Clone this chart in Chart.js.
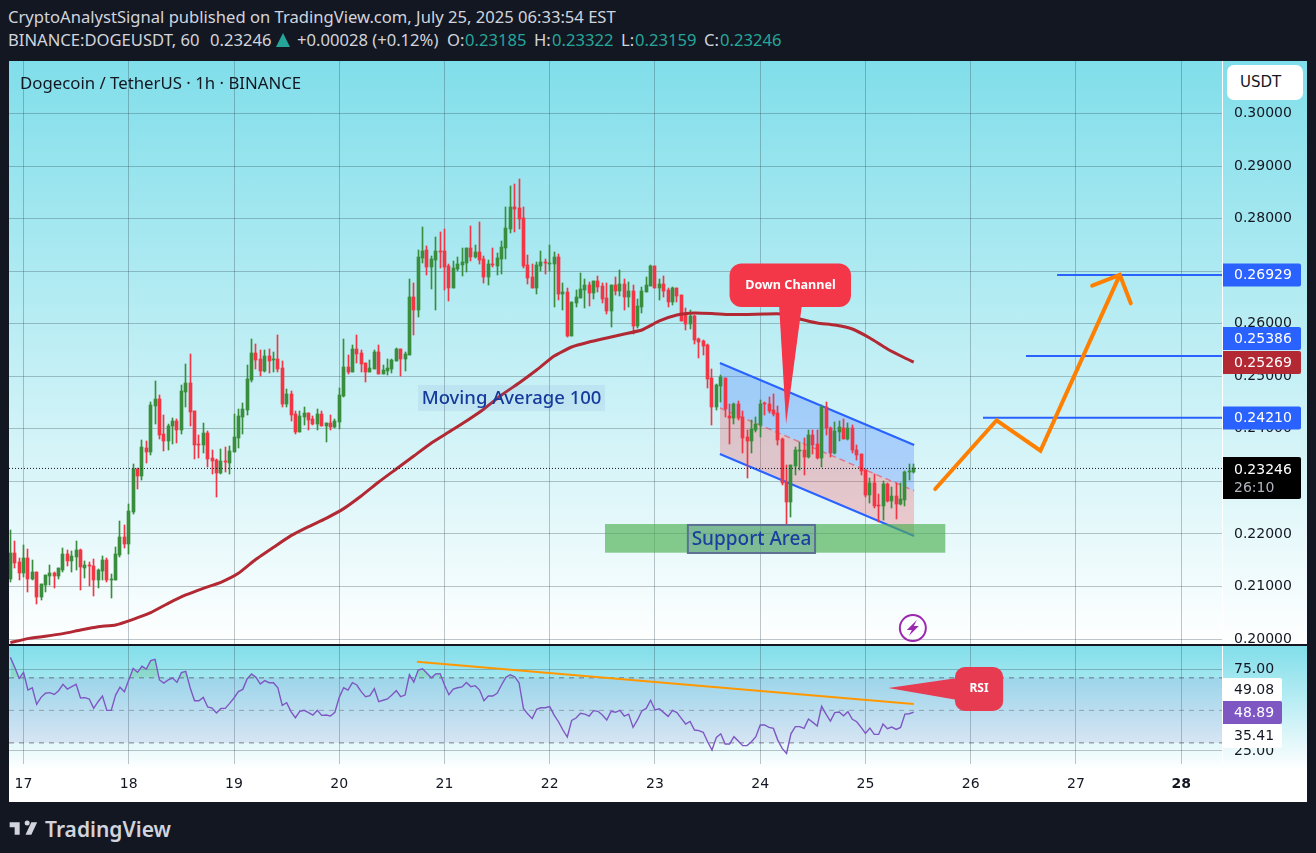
<!DOCTYPE html>
<html><head><meta charset="utf-8">
<style>
html,body{margin:0;padding:0;width:1316px;height:853px;background:#131722;overflow:hidden;font-family:"Noto Sans",sans-serif}
.t{position:absolute;white-space:nowrap;font-size:16.6px;line-height:20px;color:#d1d4dc}
.g{color:#26a69a}
canvas{position:absolute;display:block}
#c1{left:9px;top:61px;background:linear-gradient(to bottom,#80deea 0,#ffffff 584px)}
#c2{left:9px;top:645px;background:linear-gradient(to bottom,#80deea 0,#ffffff 125px,#ffffff 100%)}
#sep{position:absolute;left:9px;top:644px;width:1298px;height:2px;background:#131722}
#title{position:absolute;left:20px;top:72px;font-size:16.8px;line-height:22px;color:#131722;white-space:nowrap}
#usdt{position:absolute;left:1227px;top:65px;width:76px;height:35px;box-sizing:border-box;background:#fff;border-radius:7px;padding-left:13px;font:15px/35px "DejaVu Sans",sans-serif;color:#131722}
#logo{position:absolute;left:8px;top:819px}
#brand{position:absolute;left:45px;top:814px;font-size:21px;line-height:30px;font-weight:600;color:#d1d4dc;white-space:nowrap}
</style></head><body>
<div class="t" style="left:8px;top:7px">CryptoAnalystSignal published on TradingView.com, July 25, 2025 06:33:54 EST</div>
<div class="t" style="left:8px;top:30px">BINANCE:DOGEUSDT, 60</div>
<div class="t" style="left:210px;top:30px">0.23246</div>
<svg style="position:absolute;left:276px;top:33px" width="14" height="14"><polygon points="7,0 14,14 0,14" fill="#26a69a"/></svg>
<div class="t" style="left:297px;top:30px">+0.00028 (+0.12%)</div>
<div class="t" style="left:447px;top:30px">O:<span class="g" style="position:absolute;left:18px">0.23185</span></div>
<div class="t" style="left:534px;top:30px">H:<span class="g" style="position:absolute;left:18px">0.23322</span></div>
<div class="t" style="left:621px;top:30px">L:<span class="g" style="position:absolute;left:14px">0.23159</span></div>
<div class="t" style="left:704px;top:30px">C:<span class="g" style="position:absolute;left:16px">0.23246</span></div>
<canvas id="c1" width="1298" height="584"></canvas>
<canvas id="c2" width="1298" height="157"></canvas>
<div id="sep"></div>
<div id="title">Dogecoin / TetherUS · 1h · BINANCE</div>
<div id="usdt">USDT</div>
<svg id="logo" width="30" height="19" viewBox="0 4 36 19"><path fill="#d1d4dc" d="M14 6H2v6h6v9h6V6zm14 15h-7l7-15h7l-7 15zm-5-11a3 3 0 1 0 0-6 3 3 0 0 0 0 6z"/></svg>
<div id="brand">TradingView</div>
<script src="https://cdn.jsdelivr.net/npm/chart.js@4/dist/chart.umd.js"></script>
<script>
// ---------- data ----------
const opens=[.21142,.21637,.21466,.21257,.21542,.21142,.21276,.208,.21028,.21199,
.21257,.21199,.21314,.21618,.21485,.21561,.21694,.21352,.21409,.2139,
.21123,.21295,.21504,.2113,.21123,.21599,.21942,.21808,.22417,.23236,
.23102,.23635,.23559,.24434,.24568,.23902,.23768,.24054,.24149,.23978,
.24701,.24872,.24339,.23711,.23692,.23921,.23445,.23407,.2316,.23388,
.2335,.23559,.23825,.24225,.24358,.24929,.25443,.25329,.251,.25386,
.2531,.25329,.25157,.24472,.24663,.24282,.2394,.24225,.24301,.24187,
.24092,.24282,.24054,.24111,.24035,.2413,.24625,.25177,.25081,.25519,
.25443,.25253,.25081,.25138,.25462,.25043,.251,.25138,.25291,.25519,
.25329,.25405,.26509,.26262,.27251,.27404,.2708,.27213,.27385,.27385,
.27099,.26681,.27042,.27118,.27156,.27442,.2727,.27366,.27232,.2689,
.27137,.27099,.27232,.27442,.27803,.28222,.28203,.28013,.27118,.2689,
.26681,.27099,.27175,.27137,.27137,.2727,.26566,.26604,.25767,.26395,
.2649,.26643,.26738,.26585,.26814,.26719,.2649,.26243,.26738,.26623,
.26757,.2651,.26623,.25958,.26319,.26604,.26719,.27099,.26681,.26757,
.26643,.26414,.26681,.26547,.26186,.2599,.26142,.25705,.25667,.25591,
.24963,.24411,.2481,.24963,.2424,.24201,.24468,.2422,.2384,.23764,
.23973,.24068,.24487,.24468,.24354,.24297,.23802,.22965,.22603,.23288,
.23573,.23592,.23459,.23878,.23707,.2344,.24411,.24011,.23535,.23935,
.24011,.23802,.24011,.23592,.23516,.23212,.22736,.22965,.22546,.22527,
.22945,.22622,.22717,.22565,.22641,.23174,.23185];
const closes=[.21637,.21447,.21257,.21542,.21142,.21276,.208,.21047,.21218,.21257,
.21199,.21352,.21618,.21485,.2158,.21694,.21371,.21409,.2139,.21123,
.21314,.21504,.21123,.21142,.21618,.21942,.21808,.22436,.23236,.23102,
.23654,.23559,.24453,.24568,.23883,.23768,.24054,.24149,.23978,.2472,
.24872,.2432,.23692,.23692,.23921,.23426,.23388,.2316,.23388,.23369,
.23578,.23844,.24244,.24377,.24948,.25443,.2531,.251,.25386,.25291,
.25329,.25138,.24472,.24663,.24263,.2394,.24244,.24301,.24168,.24092,
.24282,.24054,.24111,.24035,.24149,.24644,.25177,.25081,.25519,.25424,
.25234,.25081,.25157,.25462,.25043,.25119,.25157,.2531,.25519,.25329,
.25424,.26509,.26261,.2727,.27385,.2708,.27232,.27385,.27366,.2708,
.26681,.27061,.27137,.27175,.27442,.2727,.27366,.27213,.2689,.27137,
.27118,.27251,.27461,.27822,.28222,.28184,.27994,.27099,.2687,.26681,
.27118,.27175,.27156,.27156,.2727,.26566,.26604,.25767,.26414,.2651,
.26662,.26738,.26585,.26814,.267,.26471,.26243,.26738,.26623,.26757,
.2651,.26623,.25958,.26338,.26623,.26738,.27099,.26681,.26757,.26623,
.26414,.26681,.26528,.26053,.25996,.26142,.25686,.25648,.25572,.24944,
.24411,.24829,.24982,.24373,.24201,.24468,.24201,.23821,.23764,.23992,
.24087,.24468,.24468,.24335,.24278,.23783,.22965,.22603,.23307,.23592,
.23592,.23459,.23878,.23688,.2344,.24411,.24011,.23535,.23954,.2403,
.23802,.24011,.23592,.23497,.23193,.22736,.22965,.22527,.22527,.22945,
.22622,.22717,.22565,.2266,.23174,.23193,.23246];
const highs=[.22075,.21865,.21542,.21789,.21713,.21504,.21276,.21047,.21218,.21409,
.21276,.21352,.21732,.21694,.21675,.21865,.21713,.21485,.21466,.21523,
.21333,.2158,.21542,.21238,.21751,.22246,.2217,.2257,.23331,.23255,
.23787,.23768,.24511,.2491,.24644,.24263,.24092,.24206,.24187,.24834,
.25234,.25424,.24339,.23883,.24111,.23959,.23597,.23426,.23616,.23654,
.23673,.24282,.24377,.24491,.25215,.25709,.25614,.255,.255,.25519,
.25462,.25785,.25291,.24758,.2472,.24339,.24339,.24415,.24301,.24244,
.24377,.24339,.24111,.24263,.24187,.24777,.25709,.25405,.25595,.25785,
.255,.25253,.2531,.255,.25595,.25215,.25329,.25329,.25538,.25519,
.25462,.26851,.26775,.27404,.27841,.2748,.27289,.27651,.27746,.27803,
.27137,.27194,.2727,.27442,.27442,.2786,.27499,.27936,.27289,.27213,
.27442,.27347,.27575,.28222,.28622,.2866,.28755,.28222,.27309,.27137,
.27175,.27385,.27232,.27499,.27366,.27328,.26776,.26681,.26414,.26643,
.26966,.26852,.26795,.26814,.26909,.26776,.26776,.26738,.2689,.27023,
.26852,.26795,.26738,.26471,.267,.2689,.27118,.27099,.26852,.26909,
.26681,.267,.26681,.26547,.263,.26257,.26161,.25724,.25686,.2561,
.25134,.24848,.2502,.24963,.24468,.24487,.24525,.24335,.23973,.24163,
.2422,.24544,.24506,.24601,.24658,.2443,.23821,.23307,.23307,.2365,
.23745,.23821,.23973,.23973,.23973,.24449,.24506,.2403,.24125,.24144,
.24182,.24106,.24068,.23688,.23516,.23231,.2306,.23136,.22755,.23003,
.22965,.22888,.22965,.22965,.23193,.23326,.23322];
const lows=[.21085,.21352,.21123,.2118,.20895,.21123,.20667,.20743,.20895,.21028,
.20971,.21142,.21276,.2139,.21276,.21314,.20933,.21161,.21009,.20819,
.20971,.21123,.21085,.20781,.21123,.21561,.21732,.21618,.22379,.22855,
.23026,.2335,.23502,.24092,.23806,.23578,.23597,.23711,.2373,.23902,
.24415,.24054,.23426,.23445,.2354,.23274,.2314,.22703,.2314,.23178,
.2314,.23559,.23635,.23902,.24263,.24891,.25138,.25005,.25081,.25062,
.25081,.25081,.24415,.24415,.24149,.23902,.2394,.24073,.23978,.24073,
.23978,.24054,.2375,.23978,.24016,.23997,.24606,.25043,.25081,.25253,
.25081,.24891,.25081,.25138,.25043,.25043,.25024,.25062,.25291,.25005,
.251,.25405,.25785,.26129,.27156,.26928,.26662,.26262,.27061,.26643,
.26433,.26681,.27004,.26909,.26985,.27194,.27251,.27137,.26776,.26738,
.2708,.26928,.26947,.27232,.27727,.27746,.27803,.27061,.26757,.26681,
.26566,.27004,.26947,.27004,.26319,.26452,.26262,.25748,.25767,.26319,
.2649,.263,.26338,.26471,.26604,.26395,.26186,.25938,.26547,.26528,
.26262,.26319,.25805,.2592,.26205,.26604,.26719,.26681,.26452,.2651,
.26319,.26357,.26414,.26053,.25881,.25895,.2561,.25343,.254,.24772,
.24068,.24354,.24506,.24221,.23707,.24087,.24163,.23535,.2306,.23535,
.23935,.2384,.24259,.24297,.2424,.23688,.22927,.22184,.22318,.23117,
.23212,.23117,.2344,.23516,.23421,.23269,.23878,.2346,.23516,.23764,
.23802,.23783,.23535,.23402,.23117,.22698,.22584,.22489,.22222,.2226,
.22603,.22489,.22279,.22546,.22527,.23022,.23159];
const maHours=[-3,1,5,9,13,17,21,25,29,33,37,41,45,49,53,57,61,65,69,73,77,81,85,89,93,97,101,105,109,113,117,121,125,129,133,137,141,145,149,153,157,161,165,169,173,177,181,185,189,193,197,201,203];
const maValues=[.19931,.20007,.20051,.20102,.20172,.20235,.20267,.20375,.20502,.20679,.20838,.20965,.21079,.2125,.21517,.21745,.21967,.22138,.22297,.22481,.22721,.22988,.23235,.23482,.2373,.23939,.24149,.24377,.24643,.24872,.25119,.25385,.25557,.25652,.25728,.25804,.2588,.26052,.26166,.26204,.26194,.26175,.26175,.26185,.26185,.26089,.26013,.25975,.25899,.25728,.25519,.25347,.25269];
const rsiValues=[82.6,76.5,69.7,73.4,62.5,63.9,53.7,58,60.5,60.9,59.8,62.1,66,63.1,64.6,66,57.6,57.8,57,51.2,
55.3,58.8,50,50,59.4,64.2,61.5,68.7,75.8,73.4,77.1,75.4,80.6,81.4,68.7,66.8,68.7,69.9,67.2,73.2,
74,63.9,55.9,55.9,58,52.1,51.4,48.4,51.2,51.2,54.3,57.6,61.5,62.9,69.3,72.4,70.3,66.2,68.3,67,
67,63.9,53.1,54.7,49.2,45.5,49.4,50,48.6,47.1,50,46.9,47.1,46.5,48.8,58,63.9,62.5,67,65.6,
61.5,58.4,59,63.3,55.3,56.2,57,59.4,62.1,58.4,59.4,71.9,67.4,74.8,75.6,72.8,70.1,72.4,72.6,65.6,
59.6,63.1,63.9,64.4,67.2,64.6,65.2,62.5,55.9,58.8,58.8,60.5,65.6,70.3,71.9,70.7,67,51.2,47.7,44.9,
50.6,51.6,51.6,52.3,47.1,43,37.9,33.6,43.8,45.3,48.2,47.7,46.5,49.8,49.4,47.1,44.1,49.4,48.8,50,
46.5,47.7,39.5,44.1,49.6,51.2,56.2,50.2,51,48.6,46.3,50,48.6,45.1,41.6,43.2,37.9,37.5,36.5,30.7,
25.6,33.4,35.6,29.3,29.3,33.8,31.1,28.3,28.3,30.7,33.8,41,41,39.5,38.9,31.7,26.6,23.5,35.6,40,
40,38.9,44.7,42.6,40.4,52.5,47.7,43.4,48.6,49,46.7,49.2,44.5,43,39.5,35.8,39.1,35.2,35.2,41.6,
38.7,39.7,38.3,39.5,47.7,47.9,48.89];
const dayTicks=[0,24,48,72,96,120,144,168,192,216,240,264];
const priceTicks=[.20,.21,.22,.23,.24,.25,.26,.27,.28,.29,.30];
const rsiTicks=[25,75];
const rsiLevels=[70,50,30];
const lastPrice=.23246;
const channelHours=[158.8,203.1];
const channelUpper=[.25252,.23692];
const channelMiddle=[.24396,.22822];
const channelLower=[.2352,.2196];
const targetLevels=[.24210,.25386,.26929];
const targetStarts=[218.8,228.6,235.7];
const arrowHours=[207.9,221.9,231.9,250];
const arrowPrices=[.22854,.24162,.23583,.26929];
const headHours=[243.7,250,252.5];
const headPrices=[.26723,.26929,.26388];
const rsiTrendHours=[89.7,203];
const rsiTrendValues=[79.9,53.9];

// ---------- scales limits ----------
const X_MIN=-3.31,X_MAX=273.3;
const candleHours=opens.map((_,i)=>i-3);
const GREEN='#388e3c',RED='#f23645',AXF='"DejaVu Sans",sans-serif',GRID='rgba(45,65,75,0.30)';
const upOrDown=closes.map((c,i)=>c>=opens[i]?GREEN:RED);
const line=(data,o)=>Object.assign({type:'line',data,pointRadius:0,borderWidth:2,borderColor:'#000',fill:false,tension:0,order:1},o);
const zip=(xs,ys)=>xs.map((x,i)=>({x,y:ys[i]}));

function rr(c,x0,y0,x1,y1,r,fill){c.beginPath();c.roundRect(x0,y0,x1-x0,y1-y0,r);c.fillStyle=fill;c.fill();}
function tag(c,x0,x1,y0,y1,bg,txt,col,font){rrTag(c,x0,x1,y0,y1,bg);c.fillStyle=col;c.font=font||('14px '+AXF);c.textAlign='left';c.textBaseline='middle';c.fillText(txt,1234-9,(y0+y1)/2+0.5);}
function rrTag(c,x0,x1,y0,y1,bg){c.beginPath();c.roundRect(x0,y0,x1-x0,y1-y0,[0,2,2,0]);c.fillStyle=bg;c.fill();}

// keep the candles on whole device pixels, as the original renderer does
const snapPlugin={id:'snapCandles',afterDatasetsUpdate(ch){
  ch.data.datasets.forEach((d,i)=>{
    if(d.type!=='bar')return;
    ch.getDatasetMeta(i).data.forEach(el=>{
      el.x=Math.floor(el.x)+0.5;
      const a=Math.round(el.y),b=Math.round(el.base);
      el.y=a;el.base=(a===b)?a+1:b;
    });
  });
}};
const pricePlugin={id:'priceDrawings',afterDraw(ch){
  const c=ch.ctx,xs=ch.scales.x,ys=ch.scales.y,px=h=>xs.getPixelForValue(h),py=p=>ys.getPixelForValue(p);
  c.save();
  // support area
  c.fillStyle='rgba(76,175,80,0.65)';
  c.fillRect(px(132.6),py(.22188),px(210.2)-px(132.6),py(.21642)-py(.22188));
  // support label
  let x0=px(151.5),x1=px(180.5),y0=py(.2217),y1=py(.21637);
  c.fillStyle='rgba(100,130,200,0.18)';c.fillRect(x0,y0,x1-x0,y1-y0);
  c.strokeStyle='#5d7196';c.lineWidth=2;c.strokeRect(x0,y0,x1-x0,y1-y0);
  c.fillStyle='#1a3f9e';c.font='500 19px "Noto Sans",sans-serif';c.textAlign='center';c.textBaseline='middle';
  c.fillText('Support Area',(x0+x1)/2,(y0+y1)/2+1);
  // moving average label
  x0=px(89.97);x1=px(132.6);y0=py(.24834);y1=py(.24339);
  c.fillStyle='rgba(100,120,200,0.10)';c.fillRect(x0,y0,x1-x0,y1-y0);
  c.fillStyle='#153a9c';c.font='500 18.5px "Noto Sans",sans-serif';c.fillText('Moving Average 100',(x0+x1)/2,(y0+y1)/2+1);
  // down channel callout
  c.fillStyle='#f43649';
  c.beginPath();c.moveTo(px(172.3),py(.2635));c.lineTo(px(177.5),py(.2635));c.lineTo(px(173.9),py(.24091));c.closePath();c.fill();
  rr(c,px(161),py(.27146),px(188.7),py(.26318),12,'#f43649');
  c.fillStyle='#fff';c.font='bold 12.6px "Noto Sans",sans-serif';c.fillText('Down Channel',px(174.9),py(.26722));
  // bolt icon
  const ix=px(202.8),iy=py(.20209);
  c.beginPath();c.arc(ix,iy,13,0,Math.PI*2);c.strokeStyle='#9c27b0';c.lineWidth=2;c.stroke();
  c.beginPath();c.moveTo(ix+4,iy-8);c.lineTo(ix-6,iy+2);c.lineTo(ix-1,iy+2);c.lineTo(ix-4,iy+8);c.lineTo(ix+6,iy-2);c.lineTo(ix+1,iy-2);c.closePath();c.fillStyle='#9c27b0';c.fill();
  // axis tags (0.25386 is pushed up by the label below it, as in the original)
  const ax0=1214,ax1=1292;
  const lbl=(p,bg,yc)=>{const y=yc||Math.round(py(p));tag(c,ax0,ax1,y-11.5,y+11.5,bg,p.toFixed(5),'#fff');};
  lbl(.26929,'#2962ff');
  lbl(.25386,'#2962ff',277.5);
  let y=Math.round(py(.25269));tag(c,ax0,ax1,y-11,y+12,'#b22833','0.25269','#fff');
  lbl(.24210,'#2962ff');
  rrTag(c,ax0,ax1,396,438,'#000');
  c.fillStyle='#fff';c.font='14px '+AXF;c.textAlign='left';c.textBaseline='middle';c.fillText('0.23246',1225,409);
  c.fillStyle='#b2b5be';c.fillText('26:10',1225,427);
  c.restore();
}};
const rsiPlugin={id:'rsiDrawings',afterDraw(ch){
  const c=ch.ctx,xs=ch.scales.x,ys=ch.scales.y,px=h=>xs.getPixelForValue(h),py=p=>ys.getPixelForValue(p);
  c.save();
  const col='#e73b52';
  c.fillStyle=col;c.beginPath();c.moveTo(px(197.2),py(63.7));c.lineTo(px(213),py(69.9));c.lineTo(px(213),py(56.4));c.closePath();c.fill();
  rr(c,px(212.4),py(76.7),px(223.4),py(49.6),10,col);
  c.fillStyle='#fff';c.font='bold 12px "Noto Sans",sans-serif';c.textAlign='center';c.textBaseline='middle';c.fillText('RSI',px(217.9),py(63.2));
  const ax0=1214,ax1=1273;
  tag(c,ax0,ax1,33,56,'#ffffff','49.08','#131722');
  tag(c,ax0,ax1,56,79,'#7e57c2','48.89','#fff');
  tag(c,ax0,ax1,79,103,'#ffffff','35.41','#131722');
  c.restore();
}};
const noPad=s=>{s.paddingTop=0;s.paddingBottom=0;s.paddingLeft=0;s.paddingRight=0;};
const xAxis=(show)=>({type:'linear',min:X_MIN,max:X_MAX,offset:false,
  grid:{color:GRID,drawTicks:false,offset:false},border:{display:false},
  afterBuildTicks(s){s.ticks=dayTicks.map(v=>({value:v}));},
  afterFit(s){s.height=show?38:0;noPad(s);},
  ticks:{display:show,autoSkip:false,maxRotation:0,padding:12,color:'#131722',
    font:c=>({family:AXF,size:14,weight:(c.tick&&c.tick.value===264)?'bold':'normal'}),
    callback:v=>String(17+v/24)}});
const yAxis=(min,max,list,fmt)=>({type:'linear',position:'right',min,max,beginAtZero:false,
  grid:{color:GRID,drawTicks:false},border:{display:true,color:'#ffffff',width:1},
  afterBuildTicks(s){s.ticks=list.map(v=>({value:v}));},
  afterFit(s){s.width=85;noPad(s);},
  ticks:{autoSkip:false,padding:12,color:'#131722',font:{family:AXF,size:14},callback:fmt}});
const common={responsive:false,animation:false,devicePixelRatio:1,events:[],layout:{padding:0},
  plugins:{legend:{display:false},tooltip:{enabled:false}}};

new Chart(document.getElementById('c1'),{type:'bar',
 data:{datasets:[
  line(zip(channelHours,channelUpper),{borderColor:'#2962ff',fill:'+1',backgroundColor:'rgba(41,98,255,0.25)',order:9}),
  line(zip(channelHours,channelMiddle),{borderColor:'rgba(242,54,69,0.55)',borderWidth:1.5,borderDash:[6,4],order:8}),
  line(zip(channelHours,channelLower),{borderColor:'#2962ff',fill:'-1',backgroundColor:'rgba(242,54,69,0.25)',order:9}),
  {type:'bar',data:candleHours.map((h,i)=>({x:h,y:[lows[i],highs[i]]})),backgroundColor:upOrDown,barThickness:1,grouped:false,order:6},
  {type:'bar',data:candleHours.map((h,i)=>({x:h,y:[opens[i],closes[i]]})),backgroundColor:upOrDown,barThickness:3,minBarLength:1,grouped:false,order:5},
  line(zip(maHours,maValues),{borderColor:'#b22833',borderWidth:3,tension:.15,order:4}),
  line(zip([X_MIN,X_MAX],[lastPrice,lastPrice]),{borderColor:'#131722',borderWidth:1,borderDash:[1,2],order:3}),
  line(zip([targetStarts[0],X_MAX],[targetLevels[0],targetLevels[0]]),{borderColor:'#2962ff',order:2}),
  line(zip([targetStarts[1],X_MAX],[targetLevels[1],targetLevels[1]]),{borderColor:'#2962ff',order:2}),
  line(zip([targetStarts[2],X_MAX],[targetLevels[2],targetLevels[2]]),{borderColor:'#2962ff',order:2}),
  line(zip(arrowHours,arrowPrices),{borderColor:'#ff8000',borderWidth:4,borderCapStyle:'round',borderJoinStyle:'miter',order:1}),
  line(zip(headHours,headPrices),{borderColor:'#ff8000',borderWidth:4,borderCapStyle:'round',order:1})
 ]},
 options:Object.assign({},common,{scales:{x:xAxis(false),y:yAxis(.19886,.30999,priceTicks,v=>v.toFixed(5))}}),
 plugins:[snapPlugin,pricePlugin]});

new Chart(document.getElementById('c2'),{type:'line',
 data:{datasets:[
  line(zip([X_MIN,X_MAX],[rsiLevels[0],rsiLevels[0]]),{borderColor:'rgba(80,70,90,0.7)',borderWidth:1,borderDash:[5,5],fill:{target:2},backgroundColor:'rgba(126,87,194,0.12)',order:9}),
  line(zip([X_MIN,X_MAX],[rsiLevels[1],rsiLevels[1]]),{borderColor:'rgba(100,100,110,0.5)',borderWidth:1,borderDash:[5,5],order:8}),
  line(zip([X_MIN,X_MAX],[rsiLevels[2],rsiLevels[2]]),{borderColor:'rgba(80,70,90,0.7)',borderWidth:1,borderDash:[5,5],order:9}),
  line(zip(candleHours,rsiValues),{borderColor:'#7e57c2',borderWidth:1.4,order:2,fill:{target:{value:70},above:'rgba(76,175,80,0.22)',below:'rgba(0,0,0,0)'}}),
  line(zip(rsiTrendHours,rsiTrendValues),{borderColor:'#ff9800',borderWidth:2,order:1})
 ]},
 options:Object.assign({},common,{scales:{x:xAxis(true),y:yAxis(17,90.2,rsiTicks,v=>v.toFixed(2))}}),
 plugins:[rsiPlugin]});
</script>
</body></html>
